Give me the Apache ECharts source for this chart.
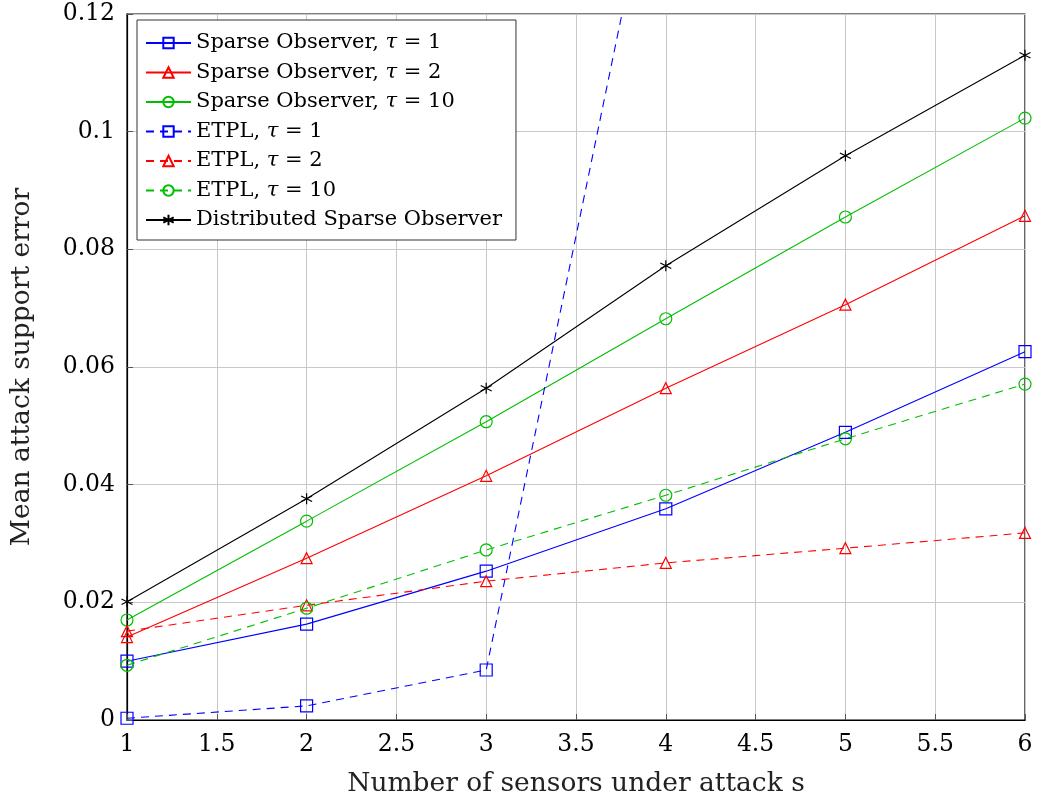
<!DOCTYPE html>
<html>
<head>
<meta charset="utf-8">
<script src="https://cdn.jsdelivr.net/npm/echarts@6/dist/echarts.min.js"></script>
<style>
html,body{margin:0;padding:0;background:#fff;}
#chart{width:1041px;height:805px;}
</style>
</head>
<body>
<div id="chart"></div>
<script>
const xValues = [1, 2, 3, 4, 5, 6];
const sparseTau1 = [0.0100, 0.0163, 0.0253, 0.0359, 0.0489, 0.0626];
const sparseTau2 = [0.0141, 0.0275, 0.0415, 0.0564, 0.0706, 0.0857];
const sparseTau10 = [0.0170, 0.0338, 0.0507, 0.0682, 0.0855, 0.1023];
const etplTau1 = [0.0003, 0.0024, 0.0085, 0.156];
const etplTau2 = [0.0151, 0.0195, 0.0236, 0.0267, 0.0292, 0.0318];
const etplTau10 = [0.0093, 0.0190, 0.0289, 0.0382, 0.0478, 0.0571];
const distributed = [0.0201, 0.0376, 0.0564, 0.0772, 0.0959, 0.1130];
const seriesNames = [
  'Sparse Observer, τ = 1',
  'Sparse Observer, τ = 2',
  'Sparse Observer, τ = 10',
  'ETPL, τ = 1',
  'ETPL, τ = 2',
  'ETPL, τ = 10',
  'Distributed Sparse Observer'
];

const FONT = '"DejaVu Serif", "Liberation Serif", serif';
const BLUE = '#0000ff', RED = '#ff0000', GREEN = '#00bf00', BLACK = '#000000';
const STAR = 'path://M0,-10 L0,10 M-8.66,-5 L8.66,5 M-8.66,5 L8.66,-5';

function pairs(ys) { return ys.map((y, i) => [xValues[i], y]); }

function mk(name, ys, color, symbol, size, dashed) {
  return {
    name: name,
    type: 'line',
    data: pairs(ys),
    symbol: symbol,
    symbolSize: size,
    showSymbol: true,
    clip: true,
    z: 3,
    lineStyle: { color: color, width: 1.1, type: dashed ? [8, 6] : 'solid' },
    itemStyle: { color: symbol === STAR ? color : 'rgba(255,255,255,0)', borderColor: color, borderWidth: 1.2 },
    emphasis: { disabled: true },
    animation: false
  };
}

const chart = echarts.init(document.getElementById('chart'), null, { renderer: 'canvas' });
chart.setOption({
  backgroundColor: '#fff',
  animation: false,
  grid: { left: 127, right: 16, top: 14, bottom: 85, show: true, borderColor: '#000', borderWidth: 1.2, backgroundColor: 'transparent' },
  legend: {
    orient: 'vertical',
    left: 137,
    top: 20,
    padding: [12, 14, 9, 8],
    itemWidth: 45,
    itemHeight: 13,
    itemGap: 7.5,
    borderColor: '#333',
    borderWidth: 1,
    backgroundColor: '#fff',
    z: 10,
    data: seriesNames,
    formatter: function (n) { return n.replace('τ', '{i|τ}'); },
    textStyle: {
      fontFamily: FONT, fontSize: 21, color: '#000', lineHeight: 22,
      rich: { i: { fontFamily: FONT, fontStyle: 'italic', fontSize: 21, color: '#000', lineHeight: 22 } }
    }
  },
  xAxis: {
    type: 'value',
    min: 1, max: 6, interval: 0.5,
    name: 'Number of sensors under attack s',
    nameLocation: 'middle',
    nameGap: 51,
    nameTextStyle: { fontFamily: FONT, fontSize: 26.5, color: '#222' },
    axisLine: { show: true, lineStyle: { color: '#000', width: 1.2 } },
    axisTick: { show: true, inside: true, length: 6, lineStyle: { color: '#555' } },
    axisLabel: { fontFamily: FONT, fontSize: 23.5, color: '#000', margin: 13 },
    splitLine: { show: true, lineStyle: { color: '#c8c8c8', width: 1 } }
  },
  yAxis: {
    type: 'value',
    min: 0, max: 0.12, interval: 0.02,
    name: 'Mean attack support error',
    nameLocation: 'middle',
    nameGap: 91,
    nameTextStyle: { fontFamily: FONT, fontSize: 26.5, color: '#222' },
    axisLine: { show: true, lineStyle: { color: '#000', width: 1.2 } },
    axisTick: { show: true, inside: true, length: 6, lineStyle: { color: '#555' } },
    axisLabel: { fontFamily: FONT, fontSize: 23.5, color: '#000', margin: 12 },
    splitLine: { show: true, lineStyle: { color: '#c8c8c8', width: 1 } }
  },
  series: [
    mk(seriesNames[0], sparseTau1, BLUE, 'rect', 12, false),
    mk(seriesNames[1], sparseTau2, RED, 'triangle', 11, false),
    mk(seriesNames[2], sparseTau10, GREEN, 'circle', 12, false),
    mk(seriesNames[3], etplTau1, BLUE, 'rect', 12, true),
    mk(seriesNames[4], etplTau2, RED, 'triangle', 11, true),
    mk(seriesNames[5], etplTau10, GREEN, 'circle', 12, true),
    mk(seriesNames[6], distributed, BLACK, STAR, 11, false)
  ]
});
</script>
</body>
</html>
